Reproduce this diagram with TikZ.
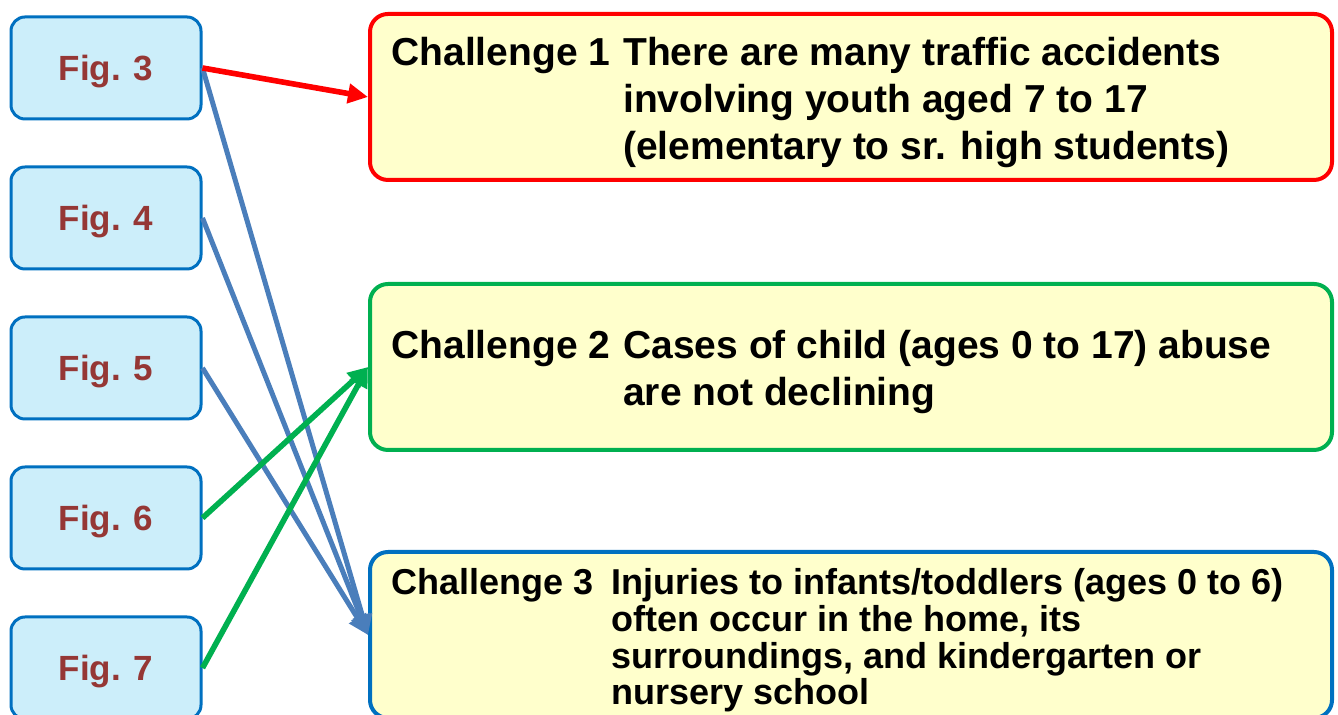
\documentclass[tikz,border=0pt]{standalone}
\usepackage{fontspec}
\setmainfont{Liberation Sans}
\usetikzlibrary{arrows.meta}
\definecolor{figfill}{HTML}{CCEEFA}
\definecolor{figline}{HTML}{0070C0}
\definecolor{figtext}{HTML}{953735}
\definecolor{notefill}{HTML}{FFFFCC}
\definecolor{redline}{HTML}{FF0000}
\definecolor{greenline}{HTML}{00B050}
\definecolor{blueline}{HTML}{4A7EBB}

\begin{document}
\begin{tikzpicture}[x=0.5pt,y=0.5pt,
	figbox/.style={draw=figline,line width=1.5pt,fill=figfill,rounded corners=7pt,
		minimum width=95pt,minimum height=51pt,text=figtext,
		text height=12.6pt,text depth=0pt,
		font=\fontsize{17.5}{21}\selectfont\bfseries},
	challenge/.style={line width=2pt,fill=notefill,rounded corners=9pt,
		minimum width=481pt,minimum height=83pt},
	challtext/.style={anchor=west,inner sep=0pt},
	link/.style={line width=2.5pt,-{Triangle[length=10pt,width=9.5pt]}}]
	\useasboundingbox (0,0) rectangle (1338,715);

	\foreach \n/\y in {3/647,4/497,5/347,6/197,7/47}
		\node[figbox] (f\n) at (106,\y) {Fig. \n};

	\node[challenge,draw=redline] (c1) at (851,618) {};
	\node[challenge,draw=greenline] (c2) at (851,348) {};
	\node[challenge,draw=figline] (c3) at (851,80) {};

	\node[challtext] (t1) at ([xshift=11.5pt,yshift=-3pt]c1.west)
		{\fontsize{19.5}{23.5}\selectfont\bfseries
		\begin{tabular}{@{}l@{\hspace{6.5pt}}l@{}}
			Challenge 1 & There are many traffic accidents\\
			& involving youth aged 7 to 17\\
			& (elementary to sr. high students)
		\end{tabular}};
	\node[challtext] (t2) at ([xshift=11.5pt,yshift=-3pt]c2.west)
		{\fontsize{19.5}{23.5}\selectfont\bfseries
		\begin{tabular}{@{}l@{\hspace{6.5pt}}l@{}}
			Challenge 2 & Cases of child (ages 0 to 17) abuse\\
			& are not declining
		\end{tabular}};
	\node[challtext] (t3) at ([xshift=11.5pt,yshift=-3.5pt]c3.west)
		{\fontsize{18}{18}\selectfont\bfseries
		\begin{tabular}{@{}l@{\hspace{9pt}}l@{}}
			Challenge 3 & Injuries to infants/toddlers (ages 0 to 6)\\
			& often occur in the home, its\\
			& surroundings, and kindergarten or\\
			& nursery school
		\end{tabular}};

	\draw[link,blueline] (f3.east) -- (c3.west);
	\draw[link,blueline] (f4.east) -- (c3.west);
	\draw[link,blueline] (f5.east) -- (c3.west);
	\draw[link,greenline,line width=2.8pt] (f6.east) -- (c2.west);
	\draw[link,greenline,line width=2.8pt] (f7.east) -- (c2.west);
	\draw[link,redline,line width=2.8pt] (f3.east) -- (c1.west);
\end{tikzpicture}
\end{document}
